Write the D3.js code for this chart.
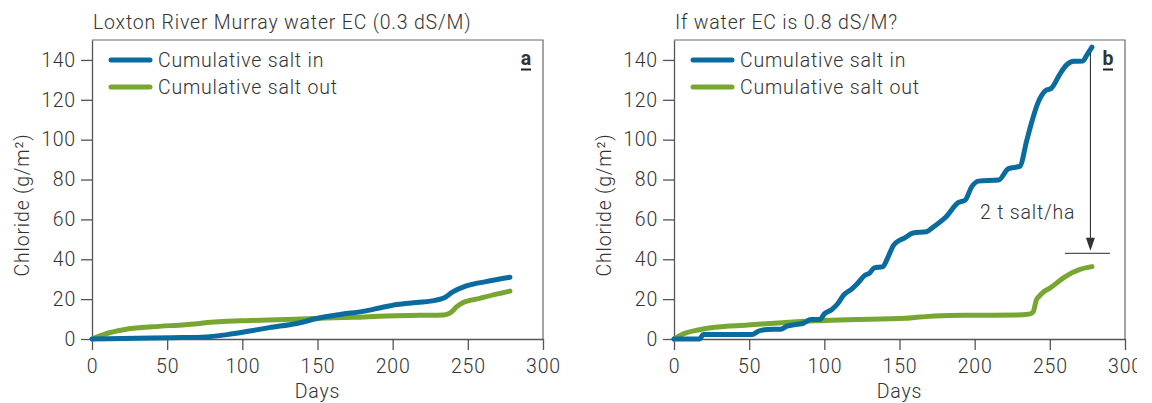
<!DOCTYPE html>
<html><head><meta charset="utf-8">
<script src="https://cdn.jsdelivr.net/npm/d3@7"></script>
<style>
body{margin:0;background:#fff;overflow:hidden;}
text{font-family:Roboto, "DejaVu Sans", sans-serif;fill:#333;}
</style></head><body>
<svg id="c" width="1137" height="403"></svg>
<script>
// ---- data ----
const seriesNames = ["Cumulative salt in", "Cumulative salt out"];
const panelTitles = ["Loxton River Murray water EC (0.3 dS/M)", "If water EC is 0.8 dS/M?"];
const panelLetters = ["a", "b"];
const xTicks = [0, 50, 100, 150, 200, 250, 300];
const yTicks = [0, 20, 40, 60, 80, 100, 120, 140];
const xLabel = "Days";
const yLabel = "Chloride (g/m²)";

// panel a
const daysInA = [0, 20, 40, 60, 73, 90, 105, 118, 136, 151, 165, 181, 192, 203, 216, 229, 234, 240, 249, 262, 278];
const saltInA = [0, 0.2, 0.5, 0.7, 0.9, 2.2, 4, 5.7, 7.8, 10.5, 12.3, 14, 15.7, 17.3, 18.3, 19.5, 20.6, 23.6, 26.6, 28.8, 31];
const daysOutA = [0, 9, 22, 40, 62, 84, 102, 129, 151, 174, 196, 218, 234, 238, 243, 247, 258, 269, 278];
const saltOutA = [0, 2.6, 4.8, 6.1, 7.2, 8.6, 9.2, 9.8, 10.4, 10.9, 11.6, 11.9, 12.1, 13, 16.4, 18.3, 20.4, 22.5, 24];

// panel b
const daysInB = [0, 17, 19.5, 52, 56, 62, 71, 75, 82, 86, 91, 97, 100, 105, 109, 113, 118, 122, 127, 130, 133, 139, 142, 146, 150, 153, 159, 168, 172.5, 181, 189, 193.6, 198, 202.5, 216, 222.5, 230, 234.7, 239, 242, 247, 251, 257, 261, 265.7, 272, 274.6, 278];
const saltInB = [0, 0, 2.2, 2.2, 3.9, 4.8, 4.9, 6.4, 7.4, 7.9, 9.8, 9.8, 12.6, 14.8, 17.8, 22.2, 24.9, 27.8, 32, 33, 35.6, 36.3, 40.5, 47, 49.5, 50.5, 53.2, 53.8, 56.2, 61.3, 68.4, 69.6, 76.3, 79.2, 79.8, 85.5, 86.6, 99.8, 111.5, 118.3, 124.5, 125.8, 133.3, 137.4, 139.3, 139.5, 142.4, 146.4];
const daysOutB = [0, 7, 16, 27, 49, 72, 94, 116, 154, 161.5, 183, 195, 228, 237, 239, 241, 243, 246, 250, 260, 270, 278];
const saltOutB = [0, 2.8, 4.5, 5.9, 7, 8.2, 9.2, 9.7, 10.4, 10.9, 11.8, 11.9, 12, 12.6, 13.7, 19.5, 21.5, 23.7, 25.5, 31.2, 34.9, 36.3];

// annotation (panel b), in data units
const annotText = "2 t salt/ha";
const annotArrowDay = 277;
const annotArrowFrom = 143.5;
const annotArrowTo = 44.3;
const annotBarDays = [260, 290];
const annotBarValue = 43;
const annotTextDay = 267;
const annotTextValue = 60;

// ---- styles / layout ----
const colors = ["#0a6b9f", "#78a632"];
const axisColor = "#555";
const frameColor = "#6a6a6a";
const panelX0 = [92, 674];
const plotW = 451, plotTop = 40, plotBottom = 339;
const fs = 19.5;
const ls = "0.8px";

const svg = d3.select("#c");

const panels = [
  {inD: daysInA, inV: saltInA, outD: daysOutA, outV: saltOutA},
  {inD: daysInB, inV: saltInB, outD: daysOutB, outV: saltOutB}
];

function styleText(sel) {
  return sel.attr("font-size", fs).attr("font-weight", 300).attr("letter-spacing", ls);
}

panels.forEach((p, i) => {
  const x0 = panelX0[i], x1 = x0 + plotW;
  const x = d3.scaleLinear().domain([0, 300]).range([x0, x1]);
  const y = d3.scaleLinear().domain([0, 150]).range([plotBottom, plotTop]);
  const g = svg.append("g");

  // frame top & right
  g.append("path").attr("d", `M${x0},${plotTop}H${x1}V${plotBottom}`)
    .attr("fill", "none").attr("stroke", frameColor).attr("stroke-width", 1.2);

  // axes
  const ya = g.append("g").attr("transform", `translate(${x0},0)`)
    .call(d3.axisLeft(y).tickValues(yTicks).tickSize(11).tickSizeOuter(0).tickPadding(5));
  const xa = g.append("g").attr("transform", `translate(0,${plotBottom})`)
    .call(d3.axisBottom(x).tickValues(xTicks).tickSize(11).tickSizeOuter(0).tickPadding(9));
  [ya, xa].forEach(a => {
    a.selectAll("path,line").attr("stroke", axisColor).attr("stroke-width", 1.3);
    styleText(a.selectAll("text")).attr("font-family", "Roboto").attr("fill", "#333");
  });

  // lines
  const series = [[p.inD, p.inV], [p.outD, p.outV]];
  const line = d3.line().x(d => x(d[0])).y(d => y(d[1])).curve(d3.curveMonotoneX);
  [1, 0].forEach(k => {
    const pts = series[k][0].map((d, j) => [d, series[k][1][j]]);
    g.append("path").attr("d", line(pts)).attr("fill", "none")
      .attr("stroke", colors[k]).attr("stroke-width", 5)
      .attr("stroke-linecap", "round").attr("stroke-linejoin", "round");
  });

  // legend
  seriesNames.forEach((n, k) => {
    const ly = 60 + k * 27;
    g.append("line").attr("x1", x0 + 19).attr("x2", x0 + 58).attr("y1", ly).attr("y2", ly)
      .attr("stroke", colors[k]).attr("stroke-width", 5).attr("stroke-linecap", "round");
    styleText(g.append("text").attr("x", x0 + 66).attr("y", ly).attr("dy", "0.35em")).text(n);
  });

  // title
  styleText(g.append("text").attr("x", x0 + 1).attr("y", 29)).text(panelTitles[i]);

  // letter
  g.append("text").attr("x", x1 - 17).attr("y", 65).attr("text-anchor", "middle")
    .attr("font-size", fs).attr("font-weight", 700).attr("fill", "#222").text(panelLetters[i]);
  g.append("rect").attr("x", x1 - 22).attr("y", 68.5).attr("width", 10).attr("height", 2).attr("fill", "#222");

  // axis labels
  styleText(g.append("text").attr("x", (x0 + x1) / 2).attr("y", 397.5).attr("text-anchor", "middle")).text(xLabel);
  styleText(g.append("text").attr("transform", `translate(${x0 - 70},205) rotate(-90)`).attr("text-anchor", "middle")
    .attr("dy", "0.35em")).text(yLabel);

  // annotation on panel b
  if (i === 1) {
    const ax = x(annotArrowDay);
    g.append("line").attr("x1", ax).attr("x2", ax).attr("y1", y(annotArrowFrom)).attr("y2", y(annotArrowTo) - 8)
      .attr("stroke", "#333").attr("stroke-width", 1.1);
    const tip = y(annotArrowTo);
    g.append("path").attr("d", `M${ax - 4.5},${tip - 13}L${ax + 4.5},${tip - 13}L${ax},${tip}Z`).attr("fill", "#333");
    g.append("line").attr("x1", x(annotBarDays[0])).attr("x2", x(annotBarDays[1]))
      .attr("y1", y(annotBarValue)).attr("y2", y(annotBarValue)).attr("stroke", "#555").attr("stroke-width", 1.3);
    styleText(g.append("text").attr("x", x(annotTextDay)).attr("y", y(annotTextValue)).attr("text-anchor", "end")).text(annotText);
  }
});
</script>
</body></html>
